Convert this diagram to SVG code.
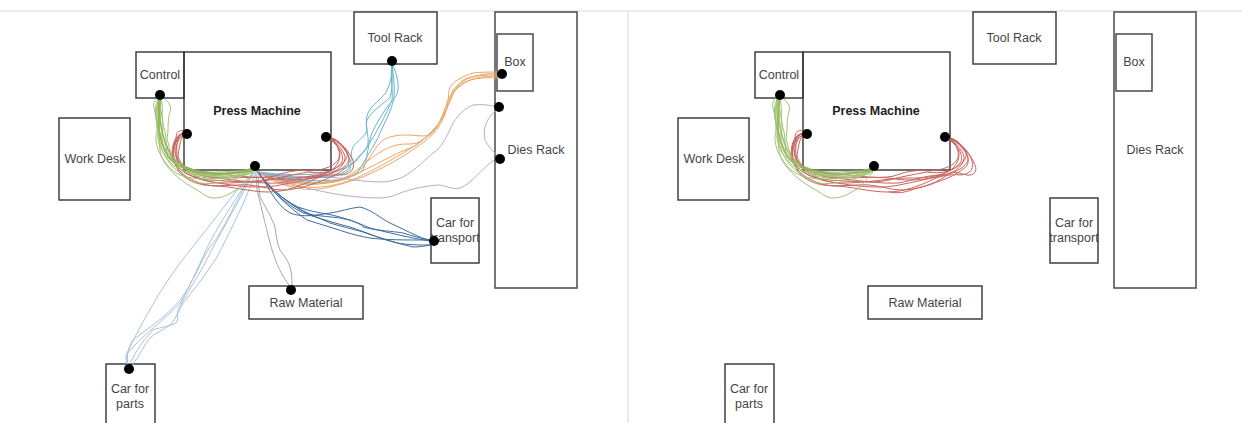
<svg xmlns="http://www.w3.org/2000/svg" width="1242" height="423" viewBox="0 0 1242 423">
<style>
.b{fill:none;stroke:#333;stroke-width:1.4}
.b2{fill:none;stroke:#555;stroke-width:1.6}
text{font-family:"Liberation Sans",Arial,sans-serif;font-size:12.5px;fill:#444;text-anchor:middle}
.t{font-weight:bold;fill:#222}
.c{fill:none;stroke-width:1;stroke-linecap:round}
.g{stroke:#a3c273}
.g2{stroke:#8fb558;stroke-width:1.6}
.r{stroke:#c8655d}
.o{stroke:#eba767}
.u{stroke:#68b5cc}
.l{stroke:#b7abd0}
.n{stroke:#3f6c9e}
.s{stroke:#a9c2dc}
.y{stroke:#aaa6b0}
.d{fill:#000}
</style>
<defs>
<g id="green">
<path d="M160 96C152 100 153 106 155 112C157 125 158 132 160 142C163 155 168 162 174 168C182 175 190 180 200 183C215 185 230 181 240 177C246 175 250 174 254 171"/>
<path d="M160 96C156 105 155 115 158 125C160 140 158 150 163 160C170 172 182 182 197 190C205 195 208 198 214 198C225 198 232 192 240 188C246 182 250 176 254 172"/>
<path d="M160 96C168 100 172 105 170 112C167 122 169 130 167 138C170 152 174 162 181 167C190 172 198 174 204 175C220 176 232 173 241 172C247 172 251 171 254 169"/>
<path d="M160 96C154 105 161 118 159 128C155 140 162 152 168 160C176 170 190 174 205 176C222 178 240 176 254 170"/>
<path d="M160 96C165 108 160 118 164 128C168 142 164 150 170 158C180 170 200 173 220 172C235 171 248 171 254 168"/>
<path d="M160 96C150 110 160 122 156 135C155 148 162 160 172 170C184 180 204 180 222 178C236 177 248 175 254 171"/>
<path d="M160 96C158 110 166 120 162 134C160 146 170 158 178 165C190 174 212 178 232 174C242 173 250 172 254 169"/>
<path d="M160 96C163 108 156 122 161 136C164 150 172 166 186 172C202 180 225 180 240 175C246 174 250 173 254 170"/>
</g>
<g id="greenb">
<path d="M160 96C158 120 162 140 172 157C185 172 215 178 254 170"/>
<path d="M160 96C156 120 158 140 168 157C185 176 220 178 254 168"/>
</g>
<g id="red">
<path d="M187 132C180 128 176 132 176 138C172 148 172 162 180 173C188 181 195 183 204 185C225 187 240 184 250 185C262 186 272 190 282 190C295 190 308 186 318 182C330 178 338 174 344 169C352 165 350 155 344 148C340 142 337 139 327 137"/>
<path d="M187 134C177 136 172 146 174 158C176 170 190 178 210 180C232 181 252 184 270 180C285 176 298 174 308 172C322 174 335 172 342 162C345 152 336 144 327 137"/>
<path d="M187 133C180 136 180 145 178 155C180 168 195 176 215 178C238 180 258 184 280 183C295 180 312 174 325 175C338 172 346 164 345 156C342 148 335 141 327 137"/>
<path d="M187 134C176 130 170 146 173 160C178 172 200 183 225 183C250 183 268 178 288 178C302 178 318 178 332 170C344 164 350 158 346 150C340 143 336 138 327 137"/>
<path d="M187 135C183 132 175 142 176 152C174 165 188 172 205 176C225 180 250 176 270 178C290 182 315 180 328 172C338 168 343 155 338 148C336 142 332 139 327 137"/>
<path d="M187 134C180 132 174 140 175 150C175 162 190 178 212 182C236 186 262 190 285 184C300 181 318 177 330 174C342 170 352 163 348 155C343 146 336 140 327 137"/>
<path d="M187 134C178 130 176 142 177 156C178 168 195 172 212 174C232 174 256 180 275 176C290 170 302 170 310 171C324 170 336 166 339 158C341 150 336 141 327 137"/>
</g>
<g id="redx">
<path d="M327 137C338 139 346 147 352 158C356 168 352 174 342 175C330 174 322 176 315 179C300 186 285 192 268 192C250 192 232 186 214 186C195 184 176 174 173 158C172 145 176 132 187 134"/>
</g>
</defs>

<line x1="0" y1="11" x2="1242" y2="11" stroke="#dcdcdc" stroke-width="1.2"/>
<line x1="628" y1="11" x2="628" y2="423" stroke="#dcdcdc" stroke-width="1.2"/>

<g id="left-press-machine"><rect class="b" x="184" y="52" width="147" height="118"/><text class="t" x="257" y="115">Press Machine</text></g>
<g id="left-control"><rect class="b" x="136" y="52" width="48" height="46"/><text x="160" y="79">Control</text></g>
<g id="left-tool-rack"><rect class="b" x="354" y="12" width="83" height="52"/><text x="395" y="42">Tool Rack</text></g>
<g id="left-dies-rack"><rect class="b2" x="495" y="12" width="82" height="276"/><text x="536" y="154">Dies Rack</text></g>
<g id="left-box"><rect class="b2" x="497" y="34" width="36" height="57"/><text x="515" y="66">Box</text></g>
<g id="left-work-desk"><rect class="b" x="59" y="118" width="71" height="82"/><text x="95" y="163">Work Desk</text></g>
<g id="left-car-transport"><rect class="b" x="431" y="198" width="48" height="65"/><text x="455" y="227">Car for</text><text x="455" y="242">transport</text></g>
<g id="left-raw-material"><rect class="b" x="249" y="286" width="114" height="33"/><text x="306" y="307">Raw Material</text></g>
<g id="left-car-parts"><rect class="b" x="106" y="364" width="49" height="70"/><text x="130" y="393">Car for</text><text x="130" y="408">parts</text></g>

<g id="right-press-machine"><rect class="b" x="803" y="52" width="147" height="118"/><text class="t" x="876" y="115">Press Machine</text></g>
<g id="right-control"><rect class="b" x="755" y="52" width="48" height="46"/><text x="779" y="79">Control</text></g>
<g id="right-tool-rack"><rect class="b" x="973" y="12" width="83" height="52"/><text x="1014" y="42">Tool Rack</text></g>
<g id="right-dies-rack"><rect class="b2" x="1114" y="12" width="82" height="276"/><text x="1155" y="154">Dies Rack</text></g>
<g id="right-box"><rect class="b2" x="1116" y="34" width="36" height="57"/><text x="1134" y="66">Box</text></g>
<g id="right-work-desk"><rect class="b" x="678" y="118" width="71" height="82"/><text x="714" y="163">Work Desk</text></g>
<g id="right-car-transport"><rect class="b" x="1050" y="198" width="48" height="65"/><text x="1074" y="227">Car for</text><text x="1074" y="242">transport</text></g>
<g id="right-raw-material"><rect class="b" x="868" y="286" width="114" height="33"/><text x="925" y="307">Raw Material</text></g>
<g id="right-car-parts"><rect class="b" x="725" y="364" width="49" height="70"/><text x="749" y="393">Car for</text><text x="749" y="408">parts</text></g>

<g id="connectors" class="c">
<g class="u">
<path d="M258 172C290 178 335 182 350 170C352 160 350 153 353 147C358 140 366 136 367 130C366 122 366 118 368 113C372 104 384 98 387 90C391 82 392 75 392 64"/>
<path d="M258 172C295 182 345 186 363 170C368 158 368 142 372 133C376 124 380 118 385 110C390 102 397 98 398 90C399 82 396 72 392 64"/>
<path d="M258 172C290 176 340 178 357 160C362 152 368 150 368 143C369 135 365 128 367 120C372 110 384 104 390 97C393 88 392 76 392 64"/>
<path d="M258 172C295 180 335 180 347 170C352 162 362 155 367 147C375 135 386 115 392 100C393 88 390 76 392 64"/>
<path d="M258 172C295 184 340 188 358 172C365 160 370 152 378 138C384 122 392 112 394 96C395 84 393 74 392 64"/>
</g>
<g class="o">
<path d="M258 172C285 190 310 192 330 187C342 184 352 181 363 177C390 165 412 152 430 137C440 128 445 116 447 107C449 98 448 93 450 87C455 80 464 76 473 73C482 72 490 72 498 72"/>
<path d="M258 172C285 186 320 185 345 178C353 175 358 172 363 167C370 158 375 147 383 140C390 136 398 135 407 135C415 135 423 137 430 135C438 128 443 116 447 107C452 96 456 86 463 80C472 75 485 75 498 75"/>
<path d="M258 172C285 188 325 188 350 175C358 170 365 162 373 157C380 152 388 147 397 145C405 143 411 145 417 143C427 138 436 128 443 117C448 108 450 98 453 90C458 84 464 80 470 78C480 74 490 73 498 74"/>
<path d="M258 172C290 192 328 192 363 175C380 167 398 156 413 147C422 141 431 134 437 127C442 118 445 108 448 100C452 92 457 87 463 83C473 78 486 77 498 78"/>
<path d="M258 172C290 186 330 188 352 176C370 168 392 155 410 148C422 143 432 132 440 122C446 112 450 100 454 92C460 85 468 80 476 78C484 76 492 76 498 76"/>
</g>
<g class="l">
<path d="M258 172C285 178 310 176 330 177C345 178 362 182 380 182C388 182 396 180 403 177C416 170 426 158 437 150C444 143 449 132 453 123C459 114 465 108 473 105C482 104 490 105 497 107"/>
<path d="M258 172C280 182 305 188 330 193C345 196 362 198 380 198C388 198 396 195 403 192C415 188 426 186 437 185C445 185 452 190 460 188C472 184 482 168 494 160"/>
<path d="M497 110C491 114 487 120 485 127C484 132 484 136 485 140C488 146 492 151 497 155"/>
</g>
<g class="n">
<path d="M258 172C265 180 275 205 290 213C303 218 317 215 330 213C340 212 349 208 360 207C372 210 380 218 390 223C403 229 416 236 430 241"/>
<path d="M258 172C266 185 285 205 307 220C312 222 318 223 323 225C340 230 352 235 370 238C385 240 405 240 430 240"/>
<path d="M258 172C268 188 285 204 303 213C318 217 335 216 350 220C358 223 362 225 363 227C378 231 392 231 403 233C412 236 421 238 430 240"/>
<path d="M258 172C270 190 290 205 310 214C318 218 324 220 330 223C340 226 352 229 363 232C380 238 396 243 413 247C420 247 426 246 430 245"/>
<path d="M258 172C272 190 290 206 312 216C325 220 338 224 350 227C366 232 380 239 397 243C408 245 420 245 430 245"/>
<path d="M258 172C268 186 280 198 298 207C312 212 322 213 332 215C345 218 356 222 370 228C390 233 410 238 430 241"/>
</g>
<g class="s">
<path d="M254 172C245 180 242 184 237 190C218 215 198 240 180 263C160 290 142 322 127 353C125 358 126 362 128 365"/>
<path d="M254 172C240 190 225 230 210 247C200 262 195 280 180 300C165 318 148 328 133 340C128 348 126 356 128 365"/>
<path d="M254 172C245 190 225 225 210 253C200 275 188 290 178 310C176 315 179 318 177 322C170 327 160 327 153 330C144 340 136 350 131 362"/>
<path d="M256 172C248 195 232 228 217 257C205 275 194 290 183 303C178 313 175 320 170 325C162 331 155 333 150 338C144 345 140 355 133 364"/>
<path d="M254 172C244 186 228 210 212 238C200 262 192 282 181 302C165 320 142 335 127 354C126 358 127 362 129 365"/>
</g>
<g class="y">
<path d="M256 172C256 180 257 185 257 190C262 210 267 232 272 250C276 262 281 275 289 285"/>
<path d="M258 172C258 182 259 190 260 197C266 208 272 218 275 227C276 235 277 243 280 250C284 256 288 260 290 267C292 274 292 279 292 285"/>
</g>
<g class="r"><use href="#red"/><use href="#redx"/></g>
<g class="g"><use href="#green"/></g>
<g class="g2"><use href="#greenb"/></g>
<g class="r" transform="translate(619 0)"><use href="#red"/><use href="#redx"/>
<path d="M327 137C338 140 350 150 356 165C359 172 354 176 348 175C340 173 335 172 331 173C322 180 312 185 298 188C288 192 280 194 270 192"/>
</g>
<g class="g" transform="translate(619 0)"><use href="#green"/></g>
<g class="g2" transform="translate(619 0)" opacity=".8"><use href="#greenb"/></g>
</g>

<g id="points" class="d">
<circle cx="160" cy="95" r="5"/><circle cx="187" cy="134" r="5"/><circle cx="326" cy="137" r="5"/><circle cx="255" cy="166" r="5"/>
<circle cx="392" cy="61" r="5"/><circle cx="502" cy="74" r="5"/><circle cx="499" cy="107" r="5"/><circle cx="500" cy="159" r="5"/>
<circle cx="434" cy="241" r="5"/><circle cx="291" cy="290" r="5"/><circle cx="129" cy="369" r="5"/>
<circle cx="780" cy="95" r="5"/><circle cx="807" cy="134" r="5"/><circle cx="945" cy="137" r="5"/><circle cx="874" cy="166" r="5"/>
</g>
</svg>
